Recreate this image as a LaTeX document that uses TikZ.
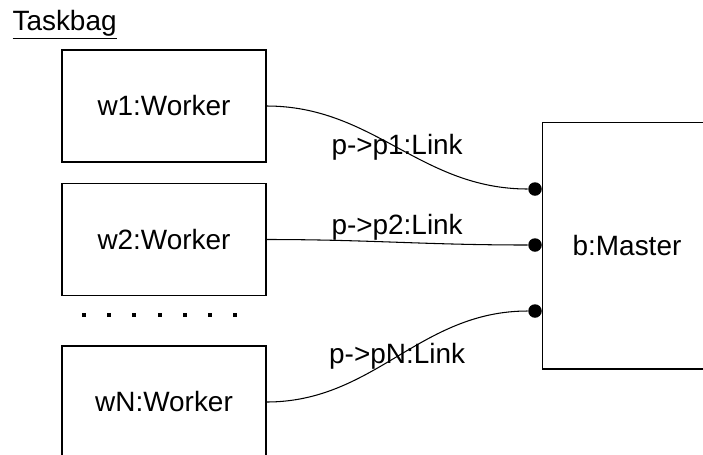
\documentclass[tikz,border=0pt]{standalone}
\usepackage{fontspec}
\setmainfont{Liberation Sans}
\begin{document}
\begin{tikzpicture}[x=0.02cm, y=-0.02cm, line width=0.6pt,
  every node/.append style={font=\fontsize{15.9}{19}\selectfont},
  worker/.style={draw, rectangle, minimum width=4.08cm, minimum height=2.24cm},
  master/.style={draw, rectangle, minimum width=4cm, minimum height=4.94cm},
  port/.style={circle, fill, inner sep=0pt, minimum size=0.27cm}]
  \useasboundingbox (0,0) rectangle (703,454);
  \clip (0,0) rectangle (703,454);
  % titulo
  \node[anchor=base west, inner sep=0pt] (title) at (12,30) {\underline{Taskbag}};
  % workers
  \node[worker] (w1) at (164,106) {w1:Worker};
  \node[worker] (w2) at (164,239.5) {w2:Worker};
  \node[worker] (wN) at (164,402) {wN:Worker};
  \foreach \i in {0,...,6}
    \fill (82+25.2*\i,313) rectangle ++(4,4);
  % master
  \node[master] (b) at (642,245.5) {};
  \node (bname) at (627,245.5) {b:Master};
  \node[port] (p1) at (535,189) {};
  \node[port] (p2) at (535,245) {};
  \node[port] (pN) at (535,311) {};
  % links
  \draw (w1.east) to[out=0, in=180] node[midway] {p->p1:Link} (p1);
  \draw (w2.east) to[out=0, in=180] node[midway, above, inner sep=1pt] {p->p2:Link} (p2);
  \draw (wN.east) to[out=0, in=180] node[midway] {p->pN:Link} (pN);
\end{tikzpicture}
\end{document}
